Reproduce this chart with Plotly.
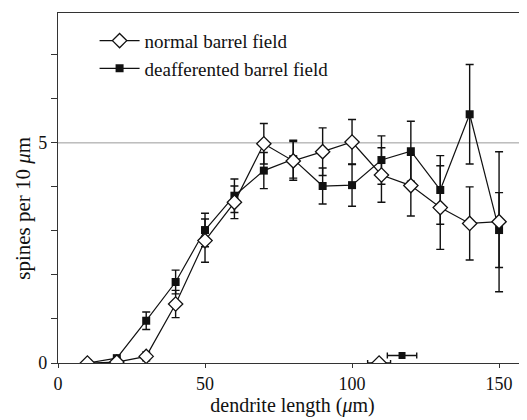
import plotly.graph_objects as go

# ---- data ----
length_um = [10, 20, 30, 40, 50, 60, 70, 80, 90, 100, 110, 120, 130, 140, 150]
normal = [0.0, 0.02, 0.15, 1.34, 2.78, 3.65, 4.98, 4.59, 4.80, 5.02, 4.27, 4.03, 3.53, 3.17, 3.21]
normal_err = [0.0, 0.0, 0.10, 0.31, 0.49, 0.37, 0.46, 0.44, 0.54, 0.51, 0.62, 0.69, 0.95, 0.83, 1.59]
deaff = [0.0, 0.11, 0.96, 1.84, 3.02, 3.80, 4.37, 4.63, 4.02, 4.04, 4.61, 4.81, 3.93, 5.65, 3.02]
deaff_err = [0.0, 0.0, 0.20, 0.27, 0.38, 0.38, 0.41, 0.43, 0.41, 0.48, 0.55, 0.68, 0.78, 1.13, 0.85]

# mean dendrite length markers near the x axis (with horizontal error)
normal_mean_x = [109.2]
normal_mean_y = [0.0]
normal_mean_xerr = [3.9]
deaff_mean_x = [117.0]
deaff_mean_y = [0.17]
deaff_mean_xerr = [5.0]

series_names = ["normal barrel field", "deafferented barrel field"]
x_tickvals = [0, 50, 100, 150]
x_ticktext = ["0", "50", "100", "150"]
y_tickvals = [0, 1, 2, 3, 4, 5, 6, 7, 8]
y_ticktext = ["0", "", "", "", "", "5", "", "", ""]
ref_line_y = 5

FONT = "Liberation Serif, Times New Roman, serif"
INK = "#111111"

fig = go.Figure()

# deafferented (drawn first, beneath diamonds)
fig.add_trace(go.Scatter(
    x=length_um, y=deaff, name=series_names[1], mode="lines+markers",
    line=dict(color=INK, width=1.2),
    marker=dict(symbol="square", size=8, color=INK, line=dict(color=INK, width=0)),
    error_y=dict(type="data", array=deaff_err, visible=True, color=INK, thickness=1.4, width=4),
    legendrank=2,
))
fig.add_trace(go.Scatter(
    x=length_um, y=normal, name=series_names[0], mode="lines+markers",
    line=dict(color=INK, width=1.2),
    marker=dict(symbol="diamond", size=11, color="white", line=dict(color=INK, width=1.3)),
    error_y=dict(type="data", array=normal_err, visible=True, color=INK, thickness=1.4, width=4),
    legendrank=1,
))
fig.add_trace(go.Scatter(
    x=deaff_mean_x, y=deaff_mean_y, mode="markers", showlegend=False,
    marker=dict(symbol="square", size=7, color=INK),
    error_x=dict(type="data", array=deaff_mean_xerr, visible=True, color=INK, thickness=1.4, width=3),
))
fig.add_trace(go.Scatter(
    x=normal_mean_x, y=normal_mean_y, mode="markers", showlegend=False,
    marker=dict(symbol="diamond", size=11, color="white", line=dict(color=INK, width=1.3)),
    error_x=dict(type="data", array=normal_mean_xerr, visible=True, color=INK, thickness=1.4, width=3),
))

fig.add_shape(type="line", xref="paper", x0=0, x1=1, yref="y", y0=ref_line_y, y1=ref_line_y,
              line=dict(color="#9a9a9a", width=1), layer="below")

# page body has an 8px margin, so the figure is sized to fill the remaining view
fig.update_layout(
    width=519, height=412,
    margin=dict(l=50, r=0, t=5, b=57, autoexpand=False),
    paper_bgcolor="white", plot_bgcolor="white",
    font=dict(family=FONT, size=19, color=INK),
    showlegend=True,
    legend=dict(x=0.078, y=0.975, xanchor="left", yanchor="top",
                bgcolor="rgba(0,0,0,0)", font=dict(family=FONT, size=19, color=INK),
                tracegroupgap=0, itemwidth=40),
    xaxis=dict(range=[0, 159.5], tickvals=x_tickvals, ticktext=x_ticktext, automargin=False,
               showgrid=False, zeroline=False, showline=True, linecolor="#333",
               linewidth=1.2, mirror=True, ticks="outside", ticklen=4, tickcolor="#333",
               title=dict(text="dendrite length (<i>μ</i>m)", standoff=2,
                          font=dict(family=FONT, size=20)),
               tickfont=dict(family=FONT, size=18)),
    yaxis=dict(range=[0, 7.95], tickvals=y_tickvals, ticktext=y_ticktext, automargin=False,
               showgrid=False, zeroline=False, showline=True, linecolor="#333",
               linewidth=1.2, ticks="outside", ticklen=6, tickcolor="#333",
               tickfont=dict(family=FONT, size=18)),
    annotations=[dict(text="spines per 10 <i>μ</i>m", textangle=-90, xref="paper", yref="paper",
                      x=-0.075, y=0.443, xanchor="center", yanchor="middle", showarrow=False,
                      font=dict(family=FONT, size=21, color=INK))],
)

fig.write_html("out.html")
